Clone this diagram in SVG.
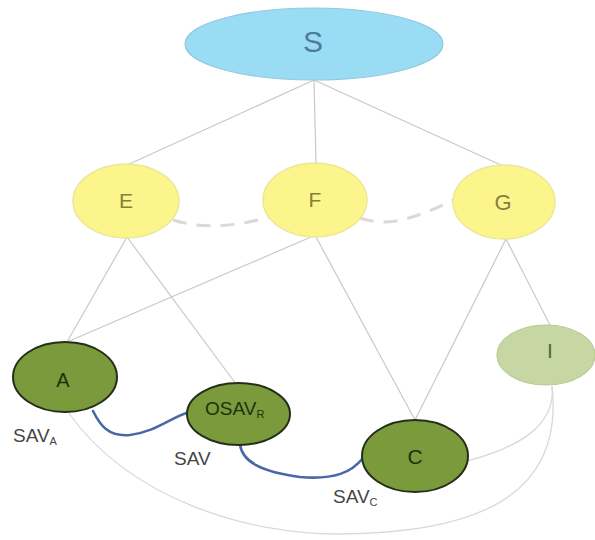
<svg xmlns="http://www.w3.org/2000/svg" width="595" height="540" viewBox="0 0 595 540">
  <style>
    .lbl { font-family: "Liberation Sans", Arial, sans-serif; text-anchor: middle; }
    .edge { fill: none; stroke: #c9c9c9; stroke-width: 1.2; }
    .soft { fill: none; stroke: #d3dae2; stroke-width: 1.3; }
    .dash { fill: none; stroke: #d9d9d9; stroke-width: 3; stroke-dasharray: 14 10; }
    .link { fill: none; stroke: #4a68a6; stroke-width: 2.6; stroke-linecap: round; }
    .top { fill: #9bdcf5; stroke: #92c8de; stroke-width: 1.2; }
    .mid { fill: #fbf58c; stroke: #ece79a; stroke-width: 1.5; }
    .low { fill: #7b9a3c; stroke: #22301a; stroke-width: 2; }
    .pale { fill: #c7d7a3; stroke: #b9cb95; stroke-width: 1.2; }
    .tag { font-family: "Liberation Sans", Arial, sans-serif; font-size: 19px; fill: #454545; }
  </style>

  <rect width="595" height="540" fill="#ffffff"/>

  <g id="connectors">
    <line class="edge" x1="314" y1="80" x2="127" y2="165"/>
    <line class="edge" x1="314" y1="80" x2="316" y2="163"/>
    <line class="edge" x1="314" y1="80" x2="503" y2="166"/>
    <line class="edge" x1="127" y1="237" x2="67" y2="342"/>
    <line class="edge" x1="127" y1="237" x2="236" y2="384"/>
    <line class="edge" x1="311" y1="237" x2="67" y2="342"/>
    <line class="edge" x1="316" y1="237" x2="415" y2="420"/>
    <line class="edge" x1="506" y1="239" x2="415" y2="420"/>
    <line class="edge" x1="506" y1="239" x2="550" y2="325"/>
    <path class="dash" d="M 173 220 C 205 230, 240 226, 272 216"/>
    <path class="dash" d="M 360 218 C 390 228, 415 218, 456 199"/>
    <path class="soft" d="M 552 386 C 556 425, 520 447, 467 461"/>
    <path class="soft" d="M 68 412 C 130 500, 250 535, 340 534 C 470 533, 565 500, 552 386"/>
    <path class="link" d="M 93 411 C 100 425, 108 437, 130 435 C 155 432, 170 418, 189 412"/>
    <path class="link" d="M 240 444 C 242 462, 262 472, 300 477 C 335 480, 352 472, 363 458"/>
  </g>

  <g id="node-S">
    <ellipse class="top" cx="314" cy="44" rx="129" ry="36"/>
    <text class="lbl" x="313" y="52" font-size="30" fill="#4b7c98">S</text>
  </g>
  <g id="node-E">
    <ellipse class="mid" cx="126" cy="201" rx="53" ry="37"/>
    <text class="lbl" x="126" y="208" font-size="21" fill="#877f3e">E</text>
  </g>
  <g id="node-F">
    <ellipse class="mid" cx="315" cy="200" rx="52" ry="37"/>
    <text class="lbl" x="315" y="207" font-size="21" fill="#877f3e">F</text>
  </g>
  <g id="node-G">
    <ellipse class="mid" cx="504" cy="202" rx="51" ry="37"/>
    <text class="lbl" x="503" y="210" font-size="22" fill="#877f3e">G</text>
  </g>
  <g id="node-A">
    <ellipse class="low" cx="65" cy="377" rx="52" ry="35"/>
    <text class="lbl" x="63" y="387" font-size="20" fill="#1a330b">A</text>
  </g>
  <g id="node-OSAVR">
    <ellipse class="low" cx="238.5" cy="414" rx="51.5" ry="31"/>
    <text x="205" y="415" font-family="Liberation Sans, Arial, sans-serif" font-size="19" fill="#1a330b">OSAV<tspan font-size="11" dy="3">R</tspan></text>
  </g>
  <g id="node-C">
    <ellipse class="low" cx="415" cy="456" rx="53" ry="36"/>
    <text class="lbl" x="415" y="464" font-size="21" fill="#1a330b">C</text>
  </g>
  <g id="node-I">
    <ellipse class="pale" cx="546" cy="355" rx="49" ry="30"/>
    <text class="lbl" x="550" y="358" font-size="21" fill="#4d6a34">I</text>
  </g>

  <g id="labels">
    <text class="tag" x="13" y="442">SAV<tspan font-size="11" dy="3">A</tspan></text>
    <text class="tag" x="174" y="465">SAV</text>
    <text class="tag" x="333" y="503">SAV<tspan font-size="11" dy="3">C</tspan></text>
  </g>
</svg>
